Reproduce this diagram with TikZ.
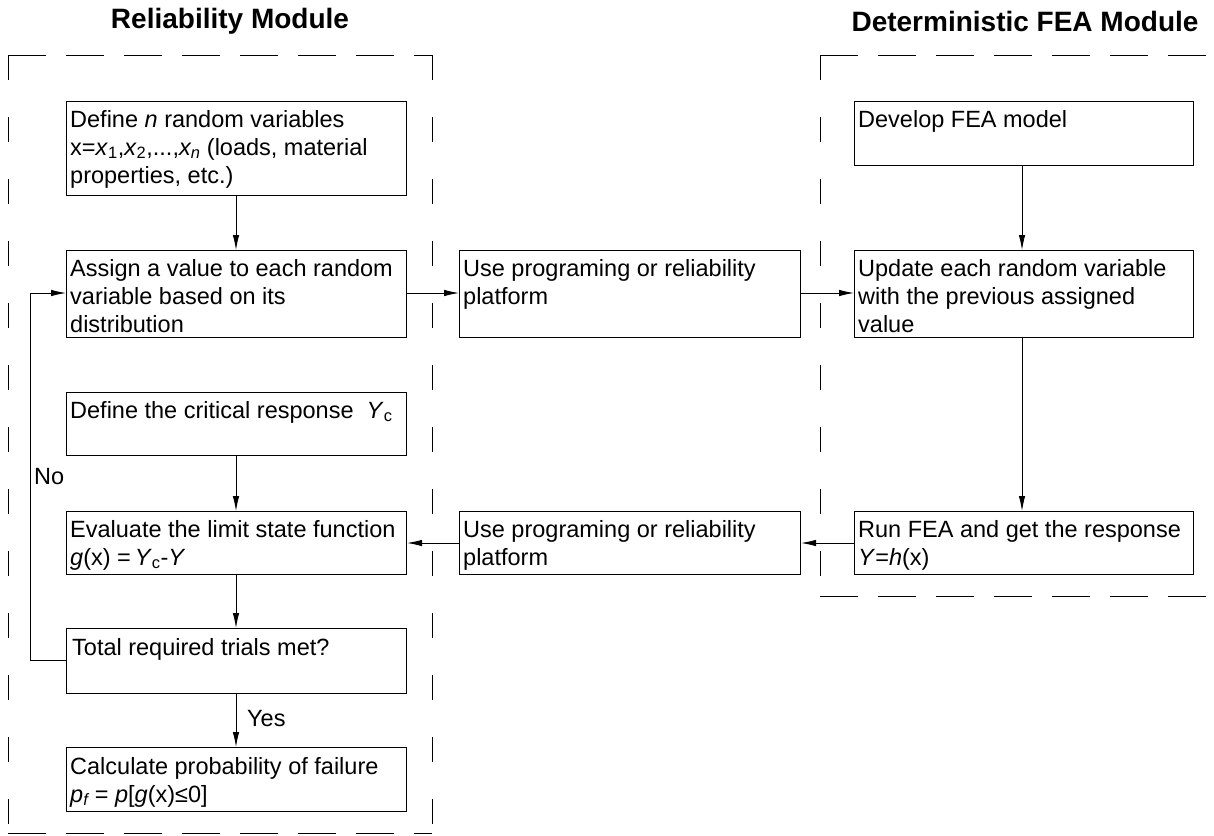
\documentclass[tikz,border=0pt]{standalone}
\usepackage{fontspec}
\setmainfont{Liberation Sans}
\usetikzlibrary{arrows.meta,calc}
\newcommand{\fl}{\rule{0pt}{18pt}}
\begin{document}
\begin{tikzpicture}[x=1pt,y=-1pt,
  box/.style={draw,line width=1pt,anchor=north west,inner sep=0pt,minimum width=340pt},
  txt/.style={anchor=north west,inner sep=0pt,align=left,font=\fontsize{23.5}{28}\selectfont},
  ttl/.style={inner sep=0pt,font=\fontsize{28}{32}\selectfont\bfseries},
  arr/.style={line width=0.9pt,-{Latex[length=15pt,width=6.5pt]}},
  hd/.style={line width=1pt,dash pattern=on 38pt off 20pt},
  vd/.style={line width=1pt,dash pattern=on 25pt off 37pt}]
\useasboundingbox (0,0) rectangle (1214,835);
% titles
\node[ttl] (t1) at (230,21) {Reliability Module};
\node[ttl] (t2) at (1025,21) {Deterministic FEA Module};
% dashed frames
\coordinate (L1) at (8,55); \coordinate (L2) at (432,55);
\coordinate (L3) at (432,833); \coordinate (L4) at (8,833);
\draw[hd] (L1) -- (L2); \draw[hd] (L4) -- (L3);
\draw[vd] (L1) -- (L4); \draw[vd] (L2) -- (L3);
\coordinate (R1c) at (820,55); \coordinate (R2c) at (1214,55);
\coordinate (R3c) at (1214,596); \coordinate (R4c) at (820,596);
\draw[hd] (R1c) -- (R2c); \draw[hd] (R4c) -- (R3c);
\draw[vd] (R1c) -- (R4c);
% left column boxes
\node[box,minimum height=94pt] (b1) at (66,101) {};
\node[box,minimum height=87pt] (b2) at (66,250) {};
\node[box,minimum height=63pt] (b3) at (66,392) {};
\node[box,minimum height=63pt] (b4) at (66,511) {};
\node[box,minimum height=65pt] (b5) at (66,628) {};
\node[box,minimum height=64pt] (b6) at (66,747) {};
% middle boxes
\node[box,minimum width=341pt,minimum height=87pt] (m1) at (459,250) {};
\node[box,minimum width=341pt,minimum height=63pt] (m2) at (459,511) {};
% right boxes
\node[box,minimum width=339pt,minimum height=64pt] (r1) at (854,101) {};
\node[box,minimum width=339pt,minimum height=87pt] (r2) at (854,250) {};
\node[box,minimum width=339pt,minimum height=63pt] (r3) at (854,511) {};
% texts
\node[txt] (b1t) at ($(b1.north west)+(4,8)$) {\fl Define \textit{n} random variables\\x=\textit{x}\textsubscript{1},\textit{x}\textsubscript{2},...,\textit{x\textsubscript{n}} (loads, material\\properties, etc.)};
\node[txt] (b2t) at ($(b2.north west)+(4,8)$) {\fl Assign a value to each random\\variable based on its\\distribution};
\node[txt] (b3t) at ($(b3.north west)+(4,8)$) {\fl Define the critical response\ \ \textit{Y}\textsubscript{c}};
\node[txt] (b4t) at ($(b4.north west)+(4,8)$) {\fl Evaluate the limit state function\\\textit{g}(x) =\,\textit{Y}\textsubscript{c}-\textit{Y}};
\node[txt] (b5t) at ($(b5.north west)+(6,9)$) {\fl Total required trials met?};
\node[txt] (b6t) at ($(b6.north west)+(4,9)$) {\fl Calculate probability of failure\\\textit{p\textsubscript{f}} = \textit{p}[\textit{g}(x)≤0]};
\node[txt] (m1t) at ($(m1.north west)+(4,8)$) {\fl Use programing or reliability\\platform};
\node[txt] (m2t) at ($(m2.north west)+(4,8)$) {\fl Use programing or reliability\\platform};
\node[txt] (r1t) at ($(r1.north west)+(4,8)$) {\fl Develop FEA model};
\node[txt] (r2t) at ($(r2.north west)+(4,8)$) {\fl Update each random variable\\with the previous assigned\\value};
\node[txt] (r3t) at ($(r3.north west)+(4,8)$) {\fl Run FEA and get the response\\\textit{Y}=\textit{h}(x)};
% connectors
\draw[arr] (b1.south -| 236,0) -- (b2.north -| 236,0);
\draw[arr] (b3.south -| 236,0) -- (b4.north -| 236,0);
\draw[arr] (b4.south -| 236,0) -- (b5.north -| 236,0);
\draw[arr] (b5.south -| 236,0) -- (b6.north -| 236,0);
\node[txt] (yes) at (247,708) {\fl Yes};
\draw[arr] (b2.east |- 0,293) -- (m1.west |- 0,293);
\draw[arr] (m1.east |- 0,293) -- (r2.west |- 0,293);
\draw[arr] (r1.south -| 1022,0) -- (r2.north -| 1022,0);
\draw[arr] (r2.south -| 1022,0) -- (r3.north -| 1022,0);
\draw[arr] (r3.west |- 0,543) -- (m2.east |- 0,543);
\draw[arr] (m2.west |- 0,543) -- (b4.east |- 0,543);
\coordinate (lpA) at (30,660);
\coordinate (lpB) at (30,293);
\draw[arr] (b5.west |- lpA) -- (lpA) -- (lpB) -- (b2.west |- lpB);
\node[txt] (no) at (34,466) {\fl No};
\end{tikzpicture}
\end{document}
